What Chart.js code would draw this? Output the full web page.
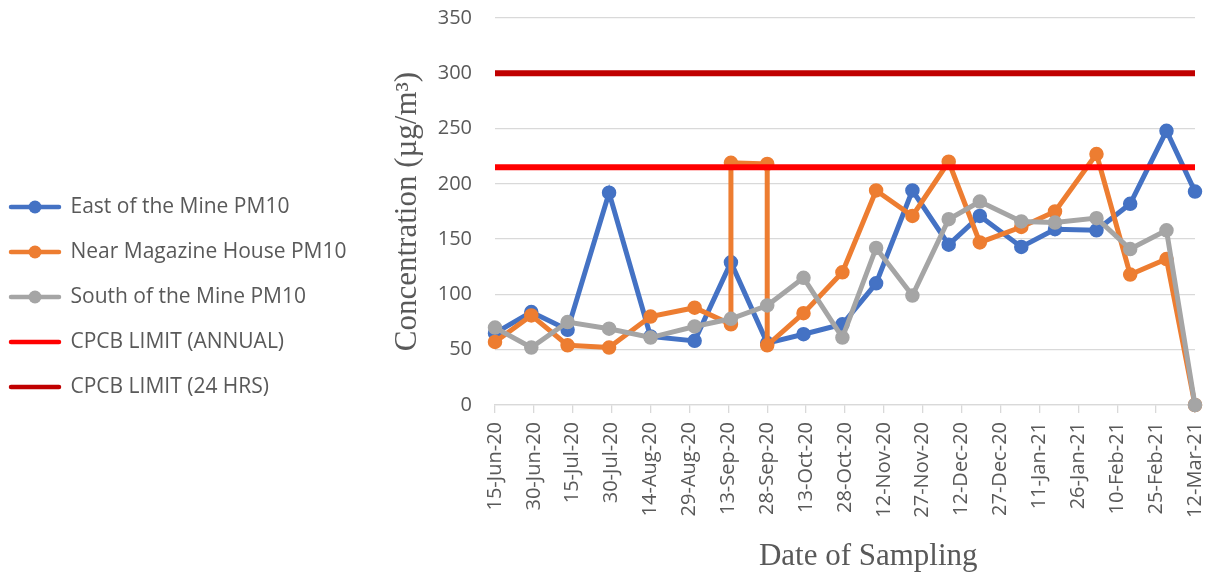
<!DOCTYPE html>
<html>
<head>
<meta charset="utf-8">
<script src="https://cdn.jsdelivr.net/npm/chart.js@4/dist/chart.umd.min.js"></script>
<style>
  html, body { margin: 0; padding: 0; background: #fff; }
  #wrap { width: 1209px; height: 579px; }
</style>
</head>
<body>
<div id="wrap"><canvas id="chart" width="1209" height="579"></canvas></div>
<script>
"use strict";

// sampling dates (orange series has two extra readings on 14-Sep and 28-Sep)
const sampleDates = ["15-Jun-20", "29-Jun-20", "13-Jul-20", "29-Jul-20", "14-Aug-20", "31-Aug-20", "14-Sep-20", "28-Sep-20", "12-Oct-20", "27-Oct-20", "09-Nov-20", "23-Nov-20", "07-Dec-20", "19-Dec-20", "04-Jan-21", "17-Jan-21", "02-Feb-21", "15-Feb-21", "01-Mar-21", "12-Mar-21"];
const magazineDates = ["15-Jun-20", "29-Jun-20", "13-Jul-20", "29-Jul-20", "14-Aug-20", "31-Aug-20", "14-Sep-20", "14-Sep-20", "28-Sep-20", "28-Sep-20", "12-Oct-20", "27-Oct-20", "09-Nov-20", "23-Nov-20", "07-Dec-20", "19-Dec-20", "04-Jan-21", "17-Jan-21", "02-Feb-21", "15-Feb-21", "01-Mar-21", "12-Mar-21"];

const eastOfMine = [65, 84, 68, 192, 62, 58, 129, 56, 64, 73, 110, 194, 145, 171, 143, 159, 158, 182, 248, 193];
const nearMagazine = [57, 81, 54, 52, 80, 88, 73, 219, 218, 54, 83, 120, 194, 171, 220, 147, 161, 175, 227, 118, 132, 0];
const southOfMine = [70, 52, 75, 69, 61, 71, 78, 90, 115, 61, 142, 99, 168, 184, 166, 165, 169, 141, 158, 0];

const limitAnnual = 215;
const limit24h = 300;

const tickLabels = ["15-Jun-20", "30-Jun-20", "15-Jul-20", "30-Jul-20", "14-Aug-20", "29-Aug-20", "13-Sep-20", "28-Sep-20", "13-Oct-20", "28-Oct-20", "12-Nov-20", "27-Nov-20", "12-Dec-20", "27-Dec-20", "11-Jan-21", "26-Jan-21", "10-Feb-21", "25-Feb-21", "12-Mar-21"];

const seriesNames = ["East of the Mine PM10", "Near Magazine House PM10", "South of the Mine PM10", "CPCB LIMIT (ANNUAL)", "CPCB LIMIT (24 HRS)"];

const BLUE = "#4472C4";
const ORANGE = "#ED7D31";
const GRAY = "#A5A5A5";
const RED = "#FF0000";
const DARK_RED = "#C00000";
const TEXT = "#595959";
const GRID = "#D9D9D9";

const MONTHS = ["Jan", "Feb", "Mar", "Apr", "May", "Jun", "Jul", "Aug", "Sep", "Oct", "Nov", "Dec"];
const START = Date.UTC(2020, 5, 15);
const DAY_MS = 86400000;
const SPAN_DAYS = 270;

// "29-Jun-20" -> days after 15-Jun-20
const toDay = (s) => {
  const [d, m, y] = s.split("-");
  return Math.round((Date.UTC(2000 + Number(y), MONTHS.indexOf(m), Number(d)) - START) / DAY_MS);
};

const toPoints = (dates, values) => values.map((v, i) => ({ x: toDay(dates[i]), y: v }));
const flat = (v) => [{ x: 0, y: v }, { x: SPAN_DAYS, y: v }];

// little line-with-dot pictures for the legend
const legendMarker = (color, dot) => {
  const c = document.createElement("canvas");
  c.width = 54;
  c.height = 16;
  const ctx = c.getContext("2d");
  ctx.strokeStyle = color;
  ctx.lineWidth = 4.5;
  ctx.lineCap = "round";
  ctx.beginPath();
  ctx.moveTo(3, 8);
  ctx.lineTo(51, 8);
  ctx.stroke();
  if (dot) {
    ctx.fillStyle = color;
    ctx.beginPath();
    ctx.arc(27, 8, 6.5, 0, Math.PI * 2);
    ctx.fill();
  }
  return c;
};

const seriesLine = (label, data, color, order) => ({
  label: label,
  data: data,
  borderColor: color,
  backgroundColor: color,
  borderWidth: 5,
  pointRadius: 6.5,
  pointBorderWidth: 1.5,
  pointBorderColor: color,
  pointBackgroundColor: color,
  tension: 0,
  clip: false,
  order: order,
  marker: legendMarker(color, true),
});

const limitLine = (label, value, color, order) => ({
  label: label,
  data: flat(value),
  borderColor: color,
  backgroundColor: color,
  borderWidth: 6,
  pointRadius: 0,
  tension: 0,
  order: order,
  marker: legendMarker(color, false),
});

const LEGEND_PAD_LEFT = -14;
const LEGEND_WIDTH = 406.5;

// legend sits in a fixed-width column on the left
const fixLegendWidth = {
  id: "fixLegendWidth",
  beforeLayout(chart) {
    const legend = chart.legend;
    if (legend && !legend._fixedWidth) {
      const fit = Object.getPrototypeOf(legend).fit;
      legend.fit = function () {
        fit.call(this);
        this.width = LEGEND_WIDTH;
      };
      legend._fixedWidth = true;
    }
  },
};

new Chart(document.getElementById("chart"), {
  type: "line",
  data: {
    datasets: [
      seriesLine(seriesNames[0], toPoints(sampleDates, eastOfMine), BLUE, 5),
      seriesLine(seriesNames[1], toPoints(magazineDates, nearMagazine), ORANGE, 4),
      seriesLine(seriesNames[2], toPoints(sampleDates, southOfMine), GRAY, 3),
      limitLine(seriesNames[3], limitAnnual, RED, 2),
      limitLine(seriesNames[4], limit24h, DARK_RED, 1),
    ],
  },
  options: {
    responsive: false,
    animation: false,
    layout: { padding: { left: LEGEND_PAD_LEFT, right: 14, top: 18, bottom: 3 } },
    plugins: {
      tooltip: { enabled: false },
      legend: {
        position: "left",
        align: "center",
        labels: {
          usePointStyle: true,
          pointStyleWidth: 50,
          padding: 24,
          color: TEXT,
          font: { family: "'Open Sans'", size: 21 },
          generateLabels: (chart) =>
            chart.data.datasets.map((ds, i) => ({
              text: ds.label,
              pointStyle: ds.marker,
              fillStyle: ds.borderColor,
              strokeStyle: ds.borderColor,
              lineWidth: 0,
              fontColor: TEXT,
              hidden: false,
              datasetIndex: i,
            })),
        },
      },
    },
    scales: {
      x: {
        type: "linear",
        min: 0,
        max: SPAN_DAYS,
        offset: false,
        afterBuildTicks: (scale) => {
          scale.ticks = tickLabels.map((t, i) => ({ value: i * 15 }));
        },
        afterFit: (scale) => {
          scale.height = 171;
          scale.paddingLeft = 0;
          scale.paddingRight = 0;
        },
        ticks: {
          autoSkip: false,
          minRotation: 90,
          maxRotation: 90,
          padding: 9,
          color: TEXT,
          font: { family: "'Open Sans'", size: 20 },
          callback: (v) => tickLabels[Math.round(v / 15)],
        },
        grid: { drawOnChartArea: false, drawTicks: true, tickLength: 8, color: GRID, lineWidth: 1.3 },
        border: { display: true, color: GRID, width: 1.3 },
        title: {
          display: true,
          // en spaces nudge the title right of the plot centre, as in the original
          text: "\u2002\u2002\u2002Date of Sampling",
          color: TEXT,
          font: { family: "'Liberation Serif'", size: 31, lineHeight: 1 },
          padding: { top: 0, bottom: 3.5 },
        },
      },
      y: {
        min: 0,
        max: 350,
        afterBuildTicks: (scale) => {
          const t = [];
          for (let v = 0; v <= 350; v += 50) t.push({ value: v });
          scale.ticks = t;
        },
        afterFit: (scale) => {
          scale.width = 102.5;
          scale.paddingTop = 0;
          scale.paddingBottom = 0;
        },
        ticks: {
          padding: 23,
          color: TEXT,
          font: { family: "'Open Sans'", size: 20 },
        },
        grid: { drawTicks: false, color: GRID, lineWidth: 1.3 },
        border: { display: false },
        title: {
          display: true,
          text: "Concentration (µg/m³)",
          color: TEXT,
          font: { family: "'Liberation Serif'", size: 31, lineHeight: 1 },
          padding: { top: 0, bottom: 0 },
        },
      },
    },
  },
  plugins: [fixLegendWidth],
});
</script>
</body>
</html>
